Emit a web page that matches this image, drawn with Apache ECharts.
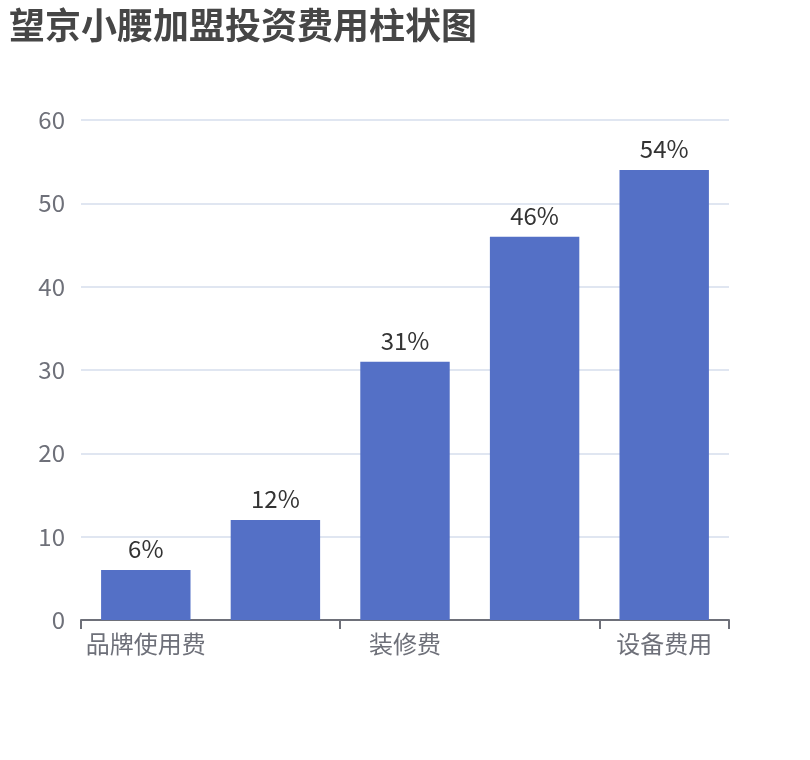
<!DOCTYPE html>
<html><head><meta charset="utf-8">
<script src="https://cdn.jsdelivr.net/npm/echarts@6/dist/echarts.min.js"></script>
<style>html,body{margin:0;padding:0;background:#fff}#c{width:810px;height:760px}</style>
</head><body><div id="c"></div>
<script>
const titleText = '望京小腰加盟投资费用柱状图';
const categories = ['品牌使用费', '加盟保证金费用', '装修费', '首批原材料费用', '设备费用'];
const values = [6, 12, 31, 46, 54];
const yTicks = [0, 10, 20, 30, 40, 50, 60];

const chart = echarts.init(document.getElementById('c'));
chart.setOption({
  animation: false,
  title: {
    text: titleText, left: 4, top: 2,
    textStyle: { fontSize: 36, fontWeight: 'bold', color: '#464646', fontFamily: 'Noto Sans CJK SC' }
  },
  grid: { left: 81, right: 81, top: 120, bottom: 140, containLabel: false },
  xAxis: {
    type: 'category', data: categories,
    axisLine: { show: true, lineStyle: { color: '#6e7079', width: 2 } },
    axisTick: { show: true, interval: 1, length: 9, lineStyle: { color: '#6e7079', width: 2 } },
    axisLabel: { interval: 1, fontSize: 24, margin: 12, color: '#6e7079', fontFamily: 'Noto Sans CJK SC' }
  },
  yAxis: {
    type: 'value', min: yTicks[0], max: yTicks[yTicks.length - 1], interval: 10,
    axisLabel: { fontSize: 24, margin: 16, color: '#6e7079', fontFamily: 'Noto Sans CJK SC' },
    splitLine: { lineStyle: { color: '#e0e6f1', width: 2 } }
  },
  series: [{
    type: 'bar', data: values, barWidth: '69%',
    itemStyle: { color: '#5470c6' },
    label: { show: true, position: 'top', distance: 9, formatter: '{c}%', fontSize: 24, color: '#333', fontFamily: 'Noto Sans CJK SC' }
  }]
});
</script></body></html>
